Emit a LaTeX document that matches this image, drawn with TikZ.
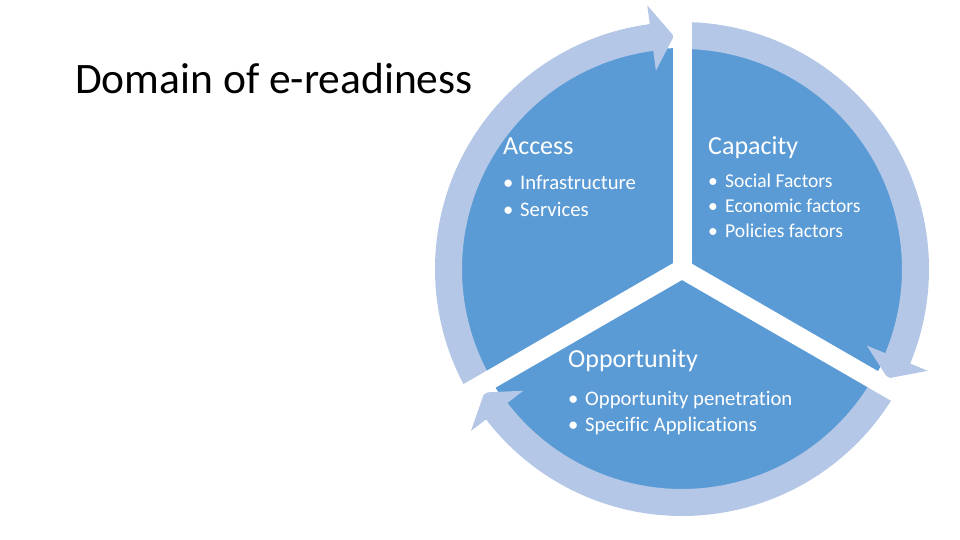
\documentclass[tikz,border=0pt]{standalone}
\usepackage{fontspec}
\setmainfont{Carlito}[Ligatures=NoCommon]
\definecolor{pieblue}{RGB}{91,155,213}
\definecolor{ringblue}{RGB}{180,199,231}
\newcommand{\itm}{\makebox[17pt][l]{\textbullet}}
\newcommand{\cyclearrow}[3]{%
  \fill[ring] (#1:247pt) arc[start angle=#1, end angle=#2, radius=247pt]
    -- (#2:266pt) -- (#3:233pt) -- (#2:200pt) -- (#2:220pt)
    arc[start angle=#2, end angle=#1, radius=220pt] -- cycle;}
\begin{document}
\begin{tikzpicture}[
        x=1pt, y=1pt,
        pie/.style={fill=pieblue},
        ring/.style={fill=ringblue},
        gap/.style={draw=white, line width=19pt, line cap=round},
        txt/.style={anchor=base west, inner sep=0pt, text=white},
        head/.style={txt, font=\fontsize{26}{31}\selectfont},
        item/.style={txt, font=\fontsize{20.7}{25}\selectfont},
        title/.style={anchor=base west, inner sep=0pt,
                      font=\fontsize{43.5}{52}\selectfont},
    ]
    \useasboundingbox (-682,-271) rectangle (278,269);

    \node[title] (title) at (-607,175) {Domain of e-readiness};

    \coordinate (c) at (0,0);
    \fill[pie] (c) circle[radius=221pt];

    \cyclearrow{210}{97.5}{92}
    \cyclearrow{90}{-22.5}{-28}
    \cyclearrow{-30}{-142.5}{-148}

    \foreach \a in {90,-30,210}
        \draw[gap] (c) -- (\a:290pt);

    \node[head] (acc) at (-179,114) {Access};
    \node[item] (acc1) at (-179,79) {\itm Infrastructure};
    \node[item] (acc2) at (-179,52) {\itm Services};

    \node[head] (cap) at (26,114) {Capacity};
    \node[item, font=\fontsize{19.6}{24}\selectfont] (cap1) at (26,81) {\itm Social Factors};
    \node[item, font=\fontsize{19.6}{24}\selectfont] (cap2) at (26,56) {\itm Economic factors};
    \node[item, font=\fontsize{19.6}{24}\selectfont] (cap3) at (26,31) {\itm Policies factors};

    \node[head] (opp) at (-114,-99) {Opportunity};
    \node[item] (opp1) at (-114,-136) {\itm Opportunity penetration};
    \node[item] (opp2) at (-114,-162) {\itm Specific Applications};

\end{tikzpicture}
\end{document}
